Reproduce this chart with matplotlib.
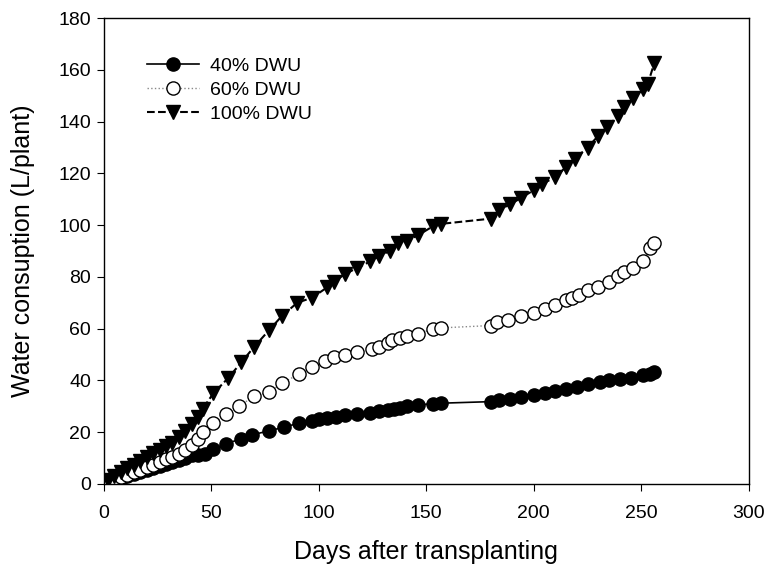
import matplotlib
matplotlib.use("Agg")
import matplotlib.pyplot as plt

plt.rcParams['font.family'] = ['Liberation Sans', 'DejaVu Sans']

days40 = [2, 5, 8, 11, 14, 17, 20, 23, 26, 29, 32, 35, 38, 41, 44, 47, 51, 57, 64, 69, 77, 84, 91, 97,
          100, 104, 108, 112, 118, 124, 128, 132, 135, 138, 141, 146, 153, 157,
          180, 184, 189, 194, 200, 205, 210, 215, 220, 225, 231, 235, 240, 245, 251, 254, 256]
vals40 = [0.5, 1.2, 2, 3, 3.8, 4.6, 5.5, 6.3, 7, 7.8, 8.5, 9.3, 10, 11, 11.2, 11.5, 13.5, 15.5, 17.5, 19, 20.5, 22, 23.5, 24.5,
          25, 25.5, 26, 26.5, 27, 27.5, 28, 28.5, 29, 29.5, 30, 30.5, 31, 31.2,
          31.8, 32.5, 33, 33.5, 34.5, 35, 35.8, 36.8, 37.5, 38.5, 39.5, 40, 40.5, 41, 42, 42.5, 43.2]

days60 = [2, 5, 8, 11, 14, 17, 20, 23, 26, 29, 32, 35, 38, 41, 44, 46, 51, 57, 63, 70, 77, 83, 91, 97,
          103, 107, 112, 118, 125, 128, 132, 134, 138, 141, 146, 153, 157,
          180, 183, 188, 194, 200, 205, 210, 215, 218, 221, 225, 230, 235, 239, 242, 246, 251, 254, 256]
vals60 = [0.8, 1.5, 2.5, 3.5, 4.5, 5.5, 6.5, 7.5, 8.5, 9.5, 10.5, 11.5, 13, 15, 17.5, 20, 23.5, 27, 30, 34, 35.5, 39, 42.5, 45,
          47.5, 49, 50, 51, 52, 53, 54.5, 55.5, 56.5, 57, 58, 59.8, 60.3,
          61.2, 62.5, 63.5, 65, 66.2, 67.5, 69, 71, 71.8, 73, 74.8, 76.2, 78, 80.5, 82, 83.5, 86, 91, 93]

days100 = [2, 5, 8, 11, 14, 17, 20, 23, 26, 29, 32, 35, 38, 41, 44, 46, 51, 58, 64, 70, 77, 83, 90, 97,
           104, 107, 112, 118, 124, 128, 133, 137, 141, 146, 153, 157,
           180, 184, 189, 194, 200, 204, 210, 215, 219, 225, 230, 234, 239, 242, 246, 251, 253, 256]
vals100 = [1.5, 3, 4.5, 6, 7.5, 9, 10.5, 12, 13, 14.5, 16, 18, 20.5, 23, 26, 29, 35, 41, 47, 53, 59.5, 65, 70, 72,
           76, 78, 81, 83.5, 86, 88, 90, 93, 94, 96, 99.5, 100.5,
           102.5, 106, 108, 110.5, 113.5, 116, 118.5, 122.5, 125.5, 130, 134.5, 138, 142, 145.5, 149, 152.5, 154.5, 162.5]

fig = plt.figure(figsize=(7.68, 5.66), dpi=100)
ax = fig.add_axes([0.135, 0.145, 0.84, 0.823])

ax.plot(days40, vals40, '-', color='black', lw=1.2, marker='o', ms=9.5,
        mfc='black', mec='black', label='40% DWU')
ax.plot(days60, vals60, ':', color='#888888', lw=1.0, marker='o', ms=9.5,
        mfc='white', mec='black', mew=1.0, label='60% DWU')
ax.plot(days100, vals100, '--', color='black', lw=1.5, marker='v', ms=10.5,
        mfc='black', mec='black', label='100% DWU')

ax.set_xlim(0, 300)
ax.set_ylim(0, 180)
ax.set_xticks(range(0, 301, 50))
ax.set_yticks(range(0, 181, 20))
ax.tick_params(direction='out', length=5, labelsize=14, top=False, right=False)
ax.tick_params(axis='x', pad=10)
ax.tick_params(axis='y', pad=4)
ax.set_xlabel('Days after transplanting', fontsize=18, labelpad=13)
ax.set_ylabel('Water consuption (L/plant)', fontsize=18, labelpad=17)
for s in ax.spines.values():
    s.set_linewidth(1.0)

ax.legend(loc='upper left', bbox_to_anchor=(147 / 768, 1 - 57 / 566), bbox_transform=fig.transFigure,
          frameon=False, fontsize=14, borderpad=0, borderaxespad=0,
          handlelength=2.65, labelspacing=0.33, handletextpad=0.6)

fig.savefig('out.png', dpi=100)
